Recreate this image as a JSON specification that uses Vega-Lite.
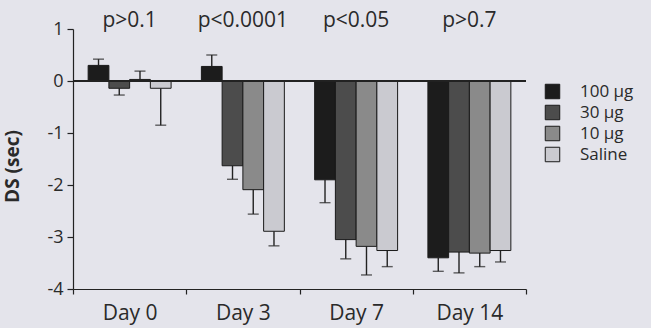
{
  "$schema": "https://vega.github.io/schema/vega-lite/v6.json",
  "width": 453,
  "height": 260,
  "autosize": "none",
  "padding": {"left": 73, "top": 29, "right": 125, "bottom": 39},
  "background": "#e4e4eb",
  "config": {
    "view": {"stroke": null},
    "font": "Open Sans",
    "axis": {"domainColor": "#222", "tickColor": "#222", "labelColor": "#2a2a2a", "titleColor": "#2a2a2a", "grid": false, "domainWidth": 1.2, "tickWidth": 1.2}
  },
  "data": {
    "values": [
      {"day": "Day 0", "dose": "100 μg", "ds": 0.30, "err": 0.42},
      {"day": "Day 0", "dose": "30 μg", "ds": -0.14, "err": -0.27},
      {"day": "Day 0", "dose": "10 μg", "ds": 0.03, "err": 0.19},
      {"day": "Day 0", "dose": "Saline", "ds": -0.14, "err": -0.85},
      {"day": "Day 3", "dose": "100 μg", "ds": 0.28, "err": 0.50},
      {"day": "Day 3", "dose": "30 μg", "ds": -1.63, "err": -1.89},
      {"day": "Day 3", "dose": "10 μg", "ds": -2.09, "err": -2.56},
      {"day": "Day 3", "dose": "Saline", "ds": -2.89, "err": -3.17},
      {"day": "Day 7", "dose": "100 μg", "ds": -1.90, "err": -2.34},
      {"day": "Day 7", "dose": "30 μg", "ds": -3.05, "err": -3.42},
      {"day": "Day 7", "dose": "10 μg", "ds": -3.18, "err": -3.73},
      {"day": "Day 7", "dose": "Saline", "ds": -3.26, "err": -3.57},
      {"day": "Day 14", "dose": "100 μg", "ds": -3.40, "err": -3.66},
      {"day": "Day 14", "dose": "30 μg", "ds": -3.29, "err": -3.69},
      {"day": "Day 14", "dose": "10 μg", "ds": -3.31, "err": -3.57},
      {"day": "Day 14", "dose": "Saline", "ds": -3.26, "err": -3.48}
    ]
  },
  "layer": [
    {
      "mark": {"type": "rule", "color": "#222", "strokeWidth": 1.4},
      "encoding": {
        "x": {"field": "day", "type": "nominal", "sort": ["Day 0", "Day 3", "Day 7", "Day 14"], "scale": {"paddingInner": 0, "paddingOuter": 0},
          "axis": {"title": null, "labelAngle": 0, "tickBand": "extent", "tickSize": 5, "labelFontSize": 21, "labelPadding": 8}},
        "xOffset": {"field": "dose", "type": "nominal", "sort": ["100 μg", "30 μg", "10 μg", "Saline"], "scale": {"paddingInner": 0, "paddingOuter": 0.73}},
        "y": {"field": "ds", "type": "quantitative", "scale": {"domain": [-4, 1], "nice": false},
          "axis": {"title": "DS (sec)", "values": [-4, -3.5, -3, -2.5, -2, -1.5, -1, -0.5, 0, 0.5, 1],
            "labelExpr": "datum.value % 1 === 0 ? toString(datum.value) : ''",
            "tickSize": {"condition": {"test": "datum.value % 1 !== 0", "value": 4}, "value": 6},
            "labelFontSize": 18, "labelPadding": 4, "titleFontSize": 19, "titleFontWeight": "bold",
            "titleX": -61, "titleY": 137, "titleAlign": "center", "titleBaseline": "middle"}},
        "y2": {"field": "err"}
      }
    },
    {
      "mark": {"type": "tick", "color": "#222", "size": 11, "thickness": 1.4},
      "encoding": {
        "x": {"field": "day", "type": "nominal", "sort": ["Day 0", "Day 3", "Day 7", "Day 14"]},
        "xOffset": {"field": "dose", "type": "nominal", "sort": ["100 μg", "30 μg", "10 μg", "Saline"]},
        "y": {"field": "err", "type": "quantitative"}
      }
    },
    {
      "mark": {"type": "bar", "stroke": "#1a1a1a", "strokeWidth": 1},
      "encoding": {
        "x": {"field": "day", "type": "nominal", "sort": ["Day 0", "Day 3", "Day 7", "Day 14"]},
        "xOffset": {"field": "dose", "type": "nominal", "sort": ["100 μg", "30 μg", "10 μg", "Saline"]},
        "y": {"field": "ds", "type": "quantitative"},
        "y2": {"datum": 0},
        "color": {"field": "dose", "type": "nominal", "sort": ["100 μg", "30 μg", "10 μg", "Saline"],
          "scale": {"domain": ["100 μg", "30 μg", "10 μg", "Saline"], "range": ["#1c1c1c", "#4c4c4c", "#8a8a8a", "#cacad0"]},
          "legend": {"title": null, "orient": "none", "legendX": 471, "legendY": 54, "symbolType": "square", "symbolSize": 210,
            "symbolStrokeColor": "#1a1a1a", "symbolStrokeWidth": 1, "labelFontSize": 17, "labelColor": "#2a2a2a", "labelOffset": 19, "rowPadding": 2, "padding": 0}}
      }
    },
    {
      "mark": {"type": "rule", "color": "#222", "strokeWidth": 1.2},
      "encoding": {"y": {"datum": 0}}
    },
    {
      "data": {"values": [
        {"day": "Day 0", "p": "p>0.1"},
        {"day": "Day 3", "p": "p<0.0001"},
        {"day": "Day 7", "p": "p<0.05"},
        {"day": "Day 14", "p": "p>0.7"}
      ]},
      "mark": {"type": "text", "fontSize": 21, "color": "#2a2a2a", "baseline": "alphabetic", "align": "center"},
      "encoding": {
        "x": {"field": "day", "type": "nominal", "sort": ["Day 0", "Day 3", "Day 7", "Day 14"]},
        "y": {"datum": 1.04},
        "text": {"field": "p"}
      }
    }
  ]
}
